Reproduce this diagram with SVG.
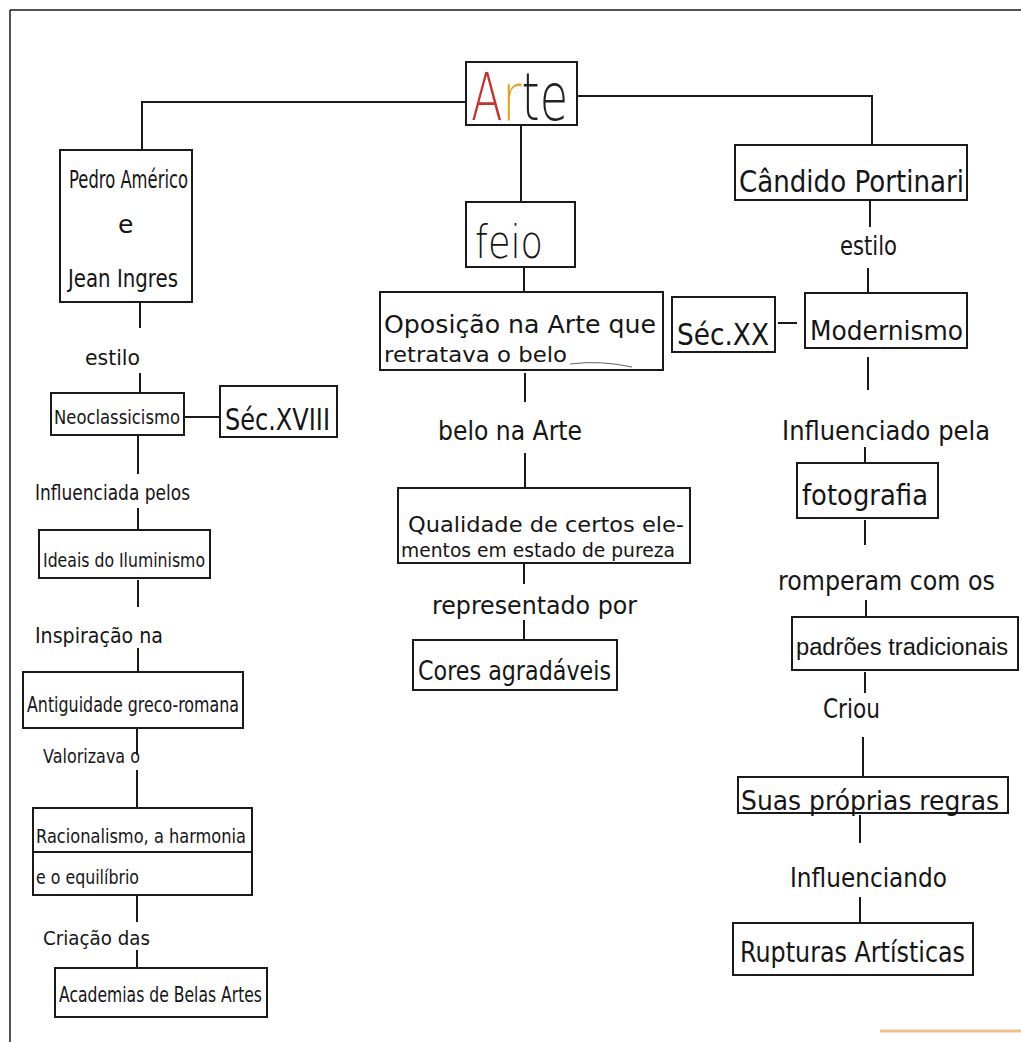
<svg xmlns="http://www.w3.org/2000/svg" width="1021" height="1042" viewBox="0 0 1021 1042">
<style>
.box{fill:none;stroke:#1a1a1a;stroke-width:2}
.ln{fill:none;stroke:#1a1a1a;stroke-width:2}
text{font-family:"DejaVu Sans","Liberation Sans",sans-serif;fill:#151515}
.big{font-size:66px;font-weight:200}
</style>
<rect x="0" y="0" width="1021" height="1042" fill="#ffffff"/>
<path d="M10 10 H1021 M10 10 V1042" fill="none" stroke="#1a1a1a" stroke-width="1.5"/>
<path d="M880 1031 H1021" stroke="#e9a868" stroke-width="3" opacity="0.7"/>

<g id="connectors">
<path class="ln" d="M466 102 H142 V150"/>
<path class="ln" d="M577 96 H872 V145"/>
<path class="ln" d="M521 125 V202"/>
<path class="ln" d="M140 302 V328 M140 373 V392 M184 417 H220 M138 436 V474 M138 508 V530 M138 580 V607 M138 648 V672 M137 729 V755 M137 770 V808 M137 896 V922 M137 950 V968"/>
<path class="ln" d="M524 267 V292 M525 373 V402 M525 453 V488 M524 564 V584 M524 620 V640"/>
<path class="ln" d="M870 200 V227 M868 268 V294 M778 323 H797 M868 357 V390 M865 447 V463 M865 520 V545 M866 600 V617 M865 672 V693 M863 737 V777 M860 815 V843 M860 897 V923"/>
<text x="85" y="365" font-size="22" textLength="55" lengthAdjust="spacingAndGlyphs">estilo</text>
<text x="35" y="500" font-size="22" textLength="155" lengthAdjust="spacingAndGlyphs">Influenciada pelos</text>
<text x="35" y="643" font-size="22" textLength="128" lengthAdjust="spacingAndGlyphs">Inspiração na</text>
<text x="43" y="763" font-size="20" textLength="97" lengthAdjust="spacingAndGlyphs">Valorizava o</text>
<text x="43" y="945" font-size="20" textLength="107" lengthAdjust="spacingAndGlyphs">Criação das</text>
<text x="438" y="440" font-size="26" textLength="144" lengthAdjust="spacingAndGlyphs">belo na Arte</text>
<text x="432" y="614" font-size="25" textLength="205" lengthAdjust="spacingAndGlyphs">representado por</text>
<text x="840" y="255" font-size="26" textLength="57" lengthAdjust="spacingAndGlyphs">estilo</text>
<text x="782" y="440" font-size="26" textLength="208" lengthAdjust="spacingAndGlyphs">Influenciado pela</text>
<text x="778" y="590" font-size="26" textLength="217" lengthAdjust="spacingAndGlyphs">romperam com os</text>
<text x="823" y="718" font-size="26" textLength="57" lengthAdjust="spacingAndGlyphs">Criou</text>
<text x="790" y="887" font-size="26" textLength="157" lengthAdjust="spacingAndGlyphs">Influenciando</text>
</g>

<g id="arte">
<rect class="box" x="466" y="62" width="111" height="63"/>
<text class="big" transform="translate(471 120) scale(0.7 1)" style="fill:#c8322a">A<tspan style="fill:#e2a323">r</tspan><tspan style="fill:#222">te</tspan></text>
</g>

<g id="pedro-americo-jean-ingres">
<rect class="box" x="60" y="150" width="132" height="152"/>
<text x="69" y="188" font-size="25" textLength="119" lengthAdjust="spacingAndGlyphs">Pedro Américo</text>
<text x="118" y="233" font-size="25">e</text>
<text x="68" y="287" font-size="25" textLength="110" lengthAdjust="spacingAndGlyphs">Jean Ingres</text>
</g>
<g id="neoclassicismo">
<rect class="box" x="51" y="393" width="133" height="42"/>
<text x="54" y="424" font-size="20" textLength="126" lengthAdjust="spacingAndGlyphs">Neoclassicismo</text>
</g>
<g id="sec-xviii">
<rect class="box" x="220" y="386" width="117" height="51"/>
<text x="225" y="430" font-size="30" textLength="105" lengthAdjust="spacingAndGlyphs">Séc.XVIII</text>
</g>
<g id="ideais-iluminismo">
<rect class="box" x="39" y="530" width="171" height="48"/>
<text x="43" y="567" font-size="20" textLength="162" lengthAdjust="spacingAndGlyphs">Ideais do Iluminismo</text>
</g>
<g id="antiguidade">
<rect class="box" x="23" y="672" width="220" height="56"/>
<text x="27" y="712" font-size="21" textLength="212" lengthAdjust="spacingAndGlyphs">Antiguidade greco-romana</text>
</g>
<g id="racionalismo">
<rect class="box" x="33" y="808" width="219" height="87"/>
<path class="ln" d="M33 852 H252"/>
<text x="36" y="843" font-size="20" textLength="210" lengthAdjust="spacingAndGlyphs">Racionalismo, a harmonia</text>
<text x="36" y="884" font-size="20" textLength="103" lengthAdjust="spacingAndGlyphs">e o equilíbrio</text>
</g>
<g id="academias">
<rect class="box" x="55" y="968" width="212" height="49"/>
<text x="59" y="1002" font-size="21" textLength="203" lengthAdjust="spacingAndGlyphs">Academias de Belas Artes</text>
</g>

<g id="feio">
<rect class="box" x="466" y="202" width="109" height="65"/>
<text x="475" y="258" font-size="46" font-weight="300" textLength="68" lengthAdjust="spacingAndGlyphs">feio</text>
</g>
<g id="oposicao">
<rect class="box" x="380" y="292" width="283" height="78"/>
<text x="384" y="333" font-size="24" textLength="272" lengthAdjust="spacingAndGlyphs">Oposição na Arte que</text>
<text x="384" y="362" font-size="21" textLength="183" lengthAdjust="spacingAndGlyphs">retratava o belo</text>
<path d="M570 364 Q600 360 632 367" fill="none" stroke="#5a6070" stroke-width="1"/>
</g>
<g id="qualidade">
<rect class="box" x="398" y="488" width="292" height="75"/>
<text x="408" y="532" font-size="22" textLength="276" lengthAdjust="spacingAndGlyphs">Qualidade de certos ele-</text>
<text x="401" y="557" font-size="20" textLength="274" lengthAdjust="spacingAndGlyphs">mentos em estado de pureza</text>
</g>
<g id="cores">
<rect class="box" x="413" y="640" width="204" height="50"/>
<text x="418" y="680" font-size="26" textLength="193" lengthAdjust="spacingAndGlyphs">Cores agradáveis</text>
</g>

<g id="candido-portinari">
<rect class="box" x="735" y="145" width="232" height="55"/>
<text x="739" y="192" font-size="30" textLength="225" lengthAdjust="spacingAndGlyphs">Cândido Portinari</text>
</g>
<g id="sec-xx">
<rect class="box" x="672" y="297" width="103" height="55"/>
<text x="677" y="345" font-size="30" textLength="92" lengthAdjust="spacingAndGlyphs">Séc.XX</text>
</g>
<g id="modernismo">
<rect class="box" x="805" y="293" width="162" height="55"/>
<text x="810" y="340" font-size="26" textLength="153" lengthAdjust="spacingAndGlyphs">Modernismo</text>
</g>
<g id="fotografia">
<rect class="box" x="797" y="463" width="141" height="55"/>
<text x="802" y="505" font-size="28" textLength="126" lengthAdjust="spacingAndGlyphs">fotografia</text>
</g>
<g id="padroes">
<rect class="box" x="792" y="617" width="226" height="53"/>
<text x="796" y="655" font-size="23" style="font-family:'Liberation Sans',sans-serif" textLength="212" lengthAdjust="spacingAndGlyphs">padrões tradicionais</text>
</g>
<g id="suas-regras">
<rect class="box" x="738" y="777" width="270" height="36"/>
<text x="741" y="810" font-size="26" textLength="258" lengthAdjust="spacingAndGlyphs">Suas próprias regras</text>
</g>
<g id="rupturas">
<rect class="box" x="733" y="923" width="240" height="52"/>
<text x="740" y="962" font-size="28" textLength="225" lengthAdjust="spacingAndGlyphs">Rupturas Artísticas</text>
</g>
</svg>
